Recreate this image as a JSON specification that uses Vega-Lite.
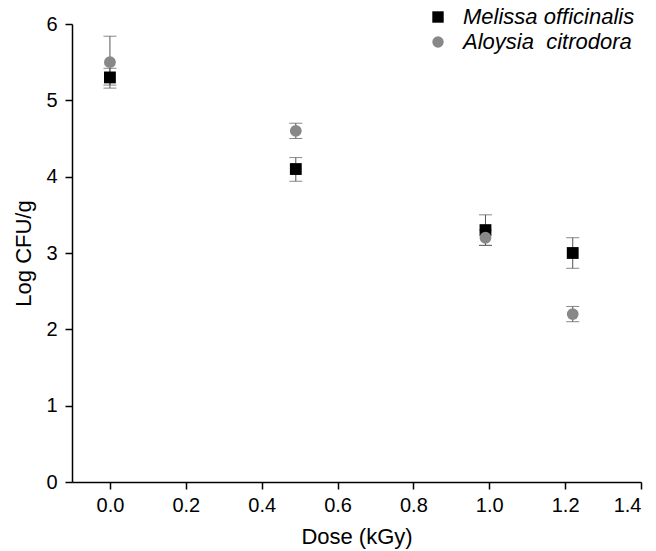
{
  "$schema": "https://vega.github.io/schema/vega-lite/v6.json",
  "width": 569,
  "height": 458,
  "autosize": "none",
  "padding": {"left": 72, "top": 24, "right": 15, "bottom": 69},
  "background": "white",
  "config": {
    "view": {"stroke": null},
    "font": "Liberation Sans",
    "axis": {
      "grid": false,
      "domainColor": "black",
      "domainWidth": 1.5,
      "tickColor": "black",
      "tickWidth": 1.5,
      "tickSize": 7,
      "labelFont": "Liberation Sans",
      "labelFontSize": 20,
      "labelColor": "black",
      "titleFont": "Liberation Sans",
      "titleFontSize": 22,
      "titleFontWeight": "normal",
      "titleColor": "black"
    }
  },
  "data": {
    "values": [
      {"species": "Melissa officinalis", "dose": 0.0, "mean": 5.3, "lo": 5.16, "hi": 5.42},
      {"species": "Melissa officinalis", "dose": 0.49, "mean": 4.1, "lo": 3.94, "hi": 4.25},
      {"species": "Melissa officinalis", "dose": 0.99, "mean": 3.3, "lo": 3.1, "hi": 3.5},
      {"species": "Melissa officinalis", "dose": 1.22, "mean": 3.0, "lo": 2.8, "hi": 3.2},
      {"species": "Aloysia\u00a0\u00a0citrodora", "dose": 0.0, "mean": 5.5, "lo": 5.2, "hi": 5.84},
      {"species": "Aloysia\u00a0\u00a0citrodora", "dose": 0.49, "mean": 4.6, "lo": 4.5, "hi": 4.7},
      {"species": "Aloysia\u00a0\u00a0citrodora", "dose": 0.99, "mean": 3.2, "lo": 3.1, "hi": 3.3},
      {"species": "Aloysia\u00a0\u00a0citrodora", "dose": 1.22, "mean": 2.2, "lo": 2.1, "hi": 2.3}
    ]
  },
  "encoding": {
    "x": {
      "field": "dose", "type": "quantitative",
      "scale": {"domain": [-0.1, 1.4], "nice": false, "zero": false},
      "axis": {"values": [0, 0.2, 0.4, 0.6, 0.8, 1.0, 1.2, 1.4], "format": ".1f", "title": "Dose (kGy)", "labelPadding": 6, "titlePadding": 11}
    }
  },
  "layer": [
    {
      "mark": {"type": "rule", "color": "#555555", "strokeWidth": 1},
      "encoding": {
        "y": {"field": "lo", "type": "quantitative", "scale": {"domain": [0, 6], "nice": false},
          "axis": {"values": [0, 1, 2, 3, 4, 5, 6], "format": "d", "title": "Log CFU/g", "titlePadding": 10, "labelPadding": 8}},
        "y2": {"field": "hi"}
      }
    },
    {
      "mark": {"type": "tick", "orient": "horizontal", "color": "#555555", "size": 13, "thickness": 1},
      "encoding": {
        "y": {"field": "lo", "type": "quantitative"}
      }
    },
    {
      "mark": {"type": "tick", "orient": "horizontal", "color": "#555555", "size": 13, "thickness": 1},
      "encoding": {
        "y": {"field": "hi", "type": "quantitative"}
      }
    },
    {
      "mark": {"type": "point", "filled": true, "opacity": 1},
      "encoding": {
        "y": {"field": "mean", "type": "quantitative"},
        "shape": {
          "field": "species", "type": "nominal",
          "scale": {"domain": ["Melissa officinalis", "Aloysia\u00a0\u00a0citrodora"], "range": ["square", "circle"]},
          "legend": {
            "title": null, "orient": "none", "legendX": 355, "legendY": -18,
            "labelFontSize": 22, "labelFontStyle": "italic", "labelFont": "Liberation Sans", "labelColor": "black",
            "symbolSize": 130, "rowPadding": 3, "labelOffset": 14, "labelLimit": 300
          }
        },
        "color": {
          "field": "species", "type": "nominal",
          "scale": {"domain": ["Melissa officinalis", "Aloysia\u00a0\u00a0citrodora"], "range": ["#000000", "#888888"]},
          "legend": {
            "title": null, "orient": "none", "legendX": 355, "legendY": -18,
            "labelFontSize": 22, "labelFontStyle": "italic", "labelFont": "Liberation Sans", "labelColor": "black",
            "symbolSize": 130, "rowPadding": 3, "labelOffset": 14, "labelLimit": 300
          }
        },
        "size": {"value": 140}
      }
    }
  ]
}
